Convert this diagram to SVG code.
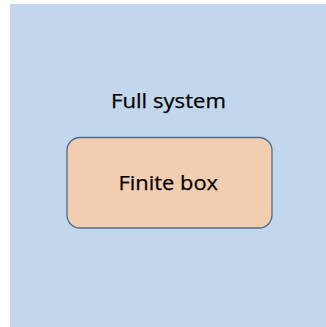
<svg xmlns="http://www.w3.org/2000/svg" width="326" height="327" viewBox="0 0 326 327">
  <style>
    .label { font-family: "Open Sans", "Liberation Sans", sans-serif; font-size: 20.5px; fill: #000000; stroke: #000000; stroke-width: 0.25; text-anchor: middle; }
    .region { fill: #C2D6EC; }
    .box { fill: #F2CDB0; stroke: #4F6B8A; stroke-width: 1.3; }
  </style>
  <rect width="326" height="327" fill="#FFFFFF"/>
  <g id="full-system">
    <rect class="region" x="10" y="4" width="316" height="323"/>
    <text class="label" x="168.5" y="107.5" textLength="115" lengthAdjust="spacingAndGlyphs">Full system</text>
  </g>
  <g id="finite-box">
    <rect class="box" x="67" y="137.5" width="205" height="90.5" rx="13" ry="13"/>
    <text class="label" x="168.3" y="189.5" textLength="99.5" lengthAdjust="spacingAndGlyphs">Finite box</text>
  </g>
  <g id="connectors"/>
</svg>
